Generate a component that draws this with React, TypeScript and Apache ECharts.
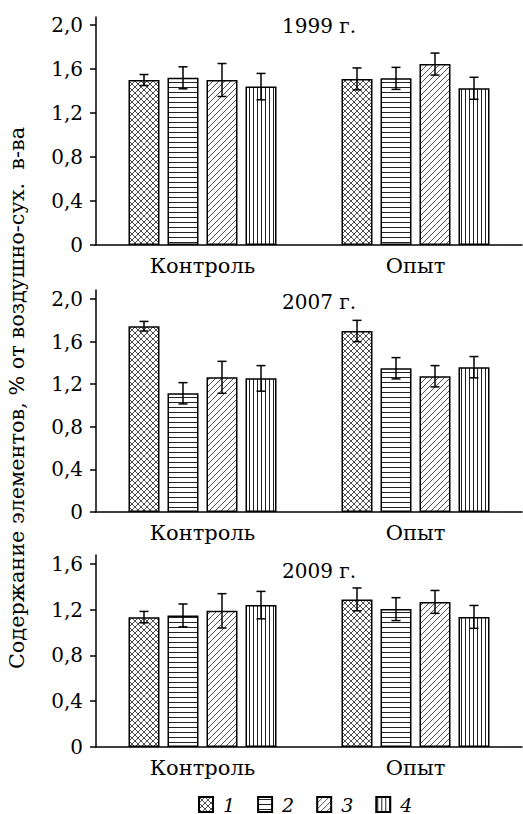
import React, { useEffect, useRef } from "react";
import * as echarts from "echarts";

const categories = ["Контроль", "Опыт"];
const seriesNames = ["1", "2", "3", "4"];
const panelTitles = ["1999 г.", "2007 г.", "2009 г."];

// values [Контроль, Опыт] per series; errors ± per series
const v1999_1 = [1.5, 1.51];
const v1999_2 = [1.52, 1.515];
const v1999_3 = [1.5, 1.645];
const v1999_4 = [1.44, 1.425];
const e1999_1 = [0.05, 0.1];
const e1999_2 = [0.1, 0.1];
const e1999_3 = [0.15, 0.1];
const e1999_4 = [0.12, 0.1];

const v2007_1 = [1.745, 1.7];
const v2007_2 = [1.115, 1.35];
const v2007_3 = [1.265, 1.275];
const v2007_4 = [1.255, 1.36];
const e2007_1 = [0.045, 0.1];
const e2007_2 = [0.1, 0.1];
const e2007_3 = [0.15, 0.1];
const e2007_4 = [0.12, 0.1];

const v2009_1 = [1.135, 1.29];
const v2009_2 = [1.15, 1.205];
const v2009_3 = [1.19, 1.268];
const v2009_4 = [1.24, 1.137];
const e2009_1 = [0.05, 0.1];
const e2009_2 = [0.1, 0.1];
const e2009_3 = [0.15, 0.1];
const e2009_4 = [0.12, 0.1];

const ticksTall = [0, 0.4, 0.8, 1.2, 1.6, 2.0];
const ticksShort = [0, 0.4, 0.8, 1.2, 1.6];

const yTitle = "Содержание элементов, % от воздушно-сух.  в-ва";

const FONT = "DejaVu Serif";

function makePattern(kind: number): HTMLCanvasElement {
  const c = document.createElement("canvas");
  let w = 6, h = 6;
  if (kind === 1) { w = 10; h = 5; }
  if (kind === 3) { w = 4; h = 10; }
  c.width = w; c.height = h;
  const ctx = c.getContext("2d")!;
  ctx.fillStyle = "#fff";
  ctx.fillRect(0, 0, w, h);
  ctx.strokeStyle = "#222";
  ctx.fillStyle = "#222";
  ctx.lineWidth = 0.8;
  if (kind === 0) {
    ctx.beginPath();
    ctx.moveTo(-1, -1); ctx.lineTo(w + 1, h + 1);
    ctx.moveTo(-1, h + 1); ctx.lineTo(w + 1, -1);
    ctx.stroke();
  } else if (kind === 1) {
    ctx.fillRect(0, 2, w, 1);
  } else if (kind === 2) {
    ctx.beginPath();
    ctx.moveTo(-1, h + 1); ctx.lineTo(w + 1, -1);
    ctx.moveTo(-1, 1); ctx.lineTo(1, -1);
    ctx.moveTo(w - 1, h + 1); ctx.lineTo(w + 1, h - 1);
    ctx.stroke();
  } else {
    ctx.fillRect(1, 0, 1, h);
  }
  return c;
}

export default function App() {
  const ref = useRef<HTMLDivElement>(null);
  useEffect(() => {
    document.body.style.margin = "0";
    const chart = echarts.init(ref.current!, null, { renderer: "svg" });
    const patterns = [0, 1, 2, 3].map((k) => ({ image: makePattern(k), repeat: "repeat" }));
    const panels = [
      { vals: [v1999_1, v1999_2, v1999_3, v1999_4], errs: [e1999_1, e1999_2, e1999_3, e1999_4], top: 17, height: 228, max: 2.073, ticks: ticksTall, titleY: 26 },
      { vals: [v2007_1, v2007_2, v2007_3, v2007_4], errs: [e2007_1, e2007_2, e2007_3, e2007_4], top: 290, height: 222, max: 2.085, ticks: ticksTall, titleY: 302 },
      { vals: [v2009_1, v2009_2, v2009_3, v2009_4], errs: [e2009_1, e2009_2, e2009_3, e2009_4], top: 555, height: 192, max: 1.678, ticks: ticksShort, titleY: 571 },
    ];
    const BW = 31, GAP = 8;
    const fmt = (v: number) => (v === 0 ? "0" : v.toFixed(1).replace(".", ","));
    const grid: any[] = [], xAxis: any[] = [], yAxis: any[] = [], series: any[] = [], graphic: any[] = [];
    panels.forEach((p, pi) => {
      grid.push({ left: 96, right: 1, top: p.top, height: p.height });
      xAxis.push({
        type: "category", gridIndex: pi, data: categories, boundaryGap: true,
        axisLine: { lineStyle: { color: "#000", width: 1.5 } },
        axisTick: { length: 6, lineStyle: { color: "#000", width: 1.5 } },
        axisLabel: { color: "#000", fontSize: 21, fontFamily: FONT, margin: 10 },
      });
      yAxis.push({
        type: "value", gridIndex: pi, min: 0, max: p.max,
        splitLine: { show: false },
        axisLine: { show: true, lineStyle: { color: "#000", width: 1.5 } },
        axisTick: { show: true, length: 6, customValues: p.ticks, lineStyle: { color: "#000", width: 1.5 } },
        axisLabel: { color: "#000", fontSize: 20, fontFamily: FONT, margin: 13, customValues: p.ticks, formatter: fmt },
      });
      p.vals.forEach((vals, si) => {
        series.push({
          type: "bar", name: seriesNames[si], xAxisIndex: pi, yAxisIndex: pi,
          data: vals, barWidth: BW, barGap: (GAP / BW * 100).toFixed(1) + "%",
          itemStyle: { color: patterns[si], borderColor: "#000", borderWidth: 1.5 },
          emphasis: { disabled: true },
        });
      });
      p.vals.forEach((vals, si) => {
        const offset = (si - 1.5) * (BW + GAP);
        series.push({
          type: "custom", xAxisIndex: pi, yAxisIndex: pi, z: 10,
          data: vals.map((v, ci) => [ci, v, p.errs[si][ci]]),
          encode: { x: 0, y: 1 },
          renderItem: (params: any, api: any) => {
            const ci = api.value(0), v = api.value(1), e = api.value(2);
            const t = api.coord([ci, v + e]);
            const b = api.coord([ci, v - e]);
            const x = t[0] + offset;
            const st = { stroke: "#000", lineWidth: 1.5 };
            return {
              type: "group",
              children: [
                { type: "line", shape: { x1: x, y1: t[1], x2: x, y2: b[1] }, style: st },
                { type: "line", shape: { x1: x - 4.5, y1: t[1], x2: x + 4.5, y2: t[1] }, style: st },
                { type: "line", shape: { x1: x - 4.5, y1: b[1], x2: x + 4.5, y2: b[1] }, style: st },
              ],
            };
          },
        });
      });
      graphic.push({
        type: "text", x: 319, y: p.titleY,
        style: { text: panelTitles[pi], font: `20px "${FONT}"`, fill: "#000", align: "center", verticalAlign: "middle" },
      });
    });
    graphic.push({
      type: "text", x: 17, y: 398, rotation: Math.PI / 2,
      style: { text: yTitle, font: `20.8px "${FONT}"`, fill: "#000", align: "center", verticalAlign: "middle" },
    });
    chart.setOption({
      animation: false,
      grid, xAxis, yAxis, series, graphic,
      legend: {
        data: seriesNames, left: 198, top: 795, itemWidth: 14, itemHeight: 15, itemGap: 22,
        icon: "rect", padding: 0,
        textStyle: { fontSize: 19, lineHeight: 18, fontStyle: "italic", fontFamily: FONT, color: "#000", padding: [0, 0, 0, 5] },
        selectedMode: false,
      },
    });
    return () => chart.dispose();
  }, []);
  return <div ref={ref} style={{ width: 523, height: 814 }} />;
}
